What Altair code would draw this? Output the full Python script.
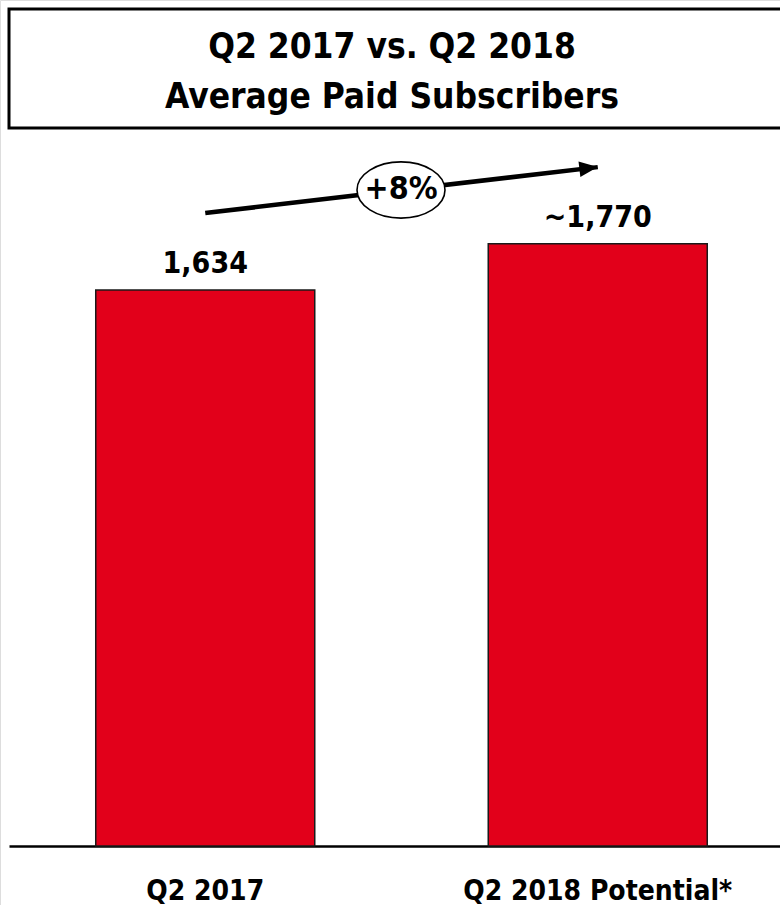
import altair as alt
import pandas as pd

# ---- data ----
categories = ["Q2 2017", "Q2 2018 Potential*"]
subscribers = [1634, 1770]
value_labels = ["1,634", "~1,770"]
title_lines = ["Q2 2017 vs. Q2 2018", "Average Paid Subscribers"]

growth = round((subscribers[1] / subscribers[0] - 1) * 100)
growth_label = f"+{growth}%"

FONT = "'Liberation Sans Narrow', 'Arial Narrow', 'DejaVu Sans Condensed', sans-serif"
RED = "#E2001A"

df = pd.DataFrame({"cat": categories, "value": subscribers, "label": value_labels})

x_scale = alt.Scale(domain=categories, range=[9, 794], paddingInner=0.442, paddingOuter=0.221)
y_scale = alt.Scale(domain=[-173, 2486], nice=False, zero=False)

X = alt.X("cat:N", scale=x_scale, sort=categories,
          axis=alt.Axis(title=None, orient="bottom", offset=-59, ticks=False,
                        domainColor="black", domainWidth=2.5, labelAngle=0,
                        labelFont=FONT, labelFontSize=28, labelFontWeight="bold",
                        labelColor="black", labelPadding=53, labelBaseline="alphabetic",
                        labelLimit=0, labelOverlap=False))
Y = alt.Y("value:Q", scale=y_scale, axis=None)

bars = alt.Chart(df).mark_bar(fill=RED, stroke="#1a1a1a", strokeWidth=1.5).encode(
    x=X, y=Y, y2=alt.datum(0)
)

labels = alt.Chart(df).mark_text(font=FONT, fontSize=30, fontWeight="bold",
                                 color="black", baseline="alphabetic", dy=-17).encode(
    x=alt.X("cat:N", scale=x_scale, sort=categories),
    y=Y, text="label:N"
)

# ---- growth arrow (annotation) ----
arrow_df = pd.DataFrame({"from": [categories[0]], "to": [categories[1]],
                         "y0": [1860], "y1": [1995]})
arrow_line = alt.Chart(arrow_df).mark_rule(color="black", strokeWidth=4.5).encode(
    x=alt.X("from:N", scale=x_scale, sort=categories),
    x2="to:N",
    y=alt.Y("y0:Q", scale=y_scale),
    y2="y1:Q",
)
arrow_head = alt.Chart(arrow_df).mark_point(
    shape="M0,0 L-2,-0.85 L-2,0.85 Z", size=340, filled=True, fill="black",
    opacity=1, angle=353.3, strokeWidth=0
).encode(
    x=alt.X("to:N", scale=x_scale, sort=categories),
    y=alt.Y("y1:Q", scale=y_scale),
)

ellipse = alt.Chart(pd.DataFrame({"t": [growth_label]})).mark_point(
    shape="M-1,0 A1,0.64 0 1,1 1,0 A1,0.64 0 1,1 -1,0 Z", size=7744,
    filled=True, fill="white", stroke="black", strokeWidth=1.6, opacity=1
).encode(x=alt.value(401), y=alt.value(190))

ellipse_text = alt.Chart(pd.DataFrame({"t": [growth_label]})).mark_text(
    font=FONT, fontSize=32, fontWeight="bold", color="black", baseline="middle"
).encode(x=alt.value(401), y=alt.value(189), text="t:N")

# ---- boxed title ----
title_box = alt.Chart(pd.DataFrame({"a": [0]})).mark_rect(
    fill="white", stroke="black", strokeWidth=3
).encode(x=alt.value(9), x2=alt.value(810), y=alt.value(9), y2=alt.value(128))

title_df = pd.DataFrame({"line": title_lines, "ypos": [58, 108]})
title_text = alt.Chart(title_df).mark_text(
    font=FONT, fontSize=35, fontWeight="bold", color="black", baseline="alphabetic"
).encode(x=alt.value(392), y=alt.Y("ypos:Q", scale=None), text="line:N")

chart = alt.layer(
    title_box, title_text, bars, labels, arrow_line, arrow_head, ellipse, ellipse_text
).properties(
    width=780, height=905,
    autosize=alt.AutoSizeParams(type="none"),
    padding=0,
).configure_view(stroke=None).configure(background="white")

chart.save("out.html", embed_options={"renderer": "svg", "actions": False})
